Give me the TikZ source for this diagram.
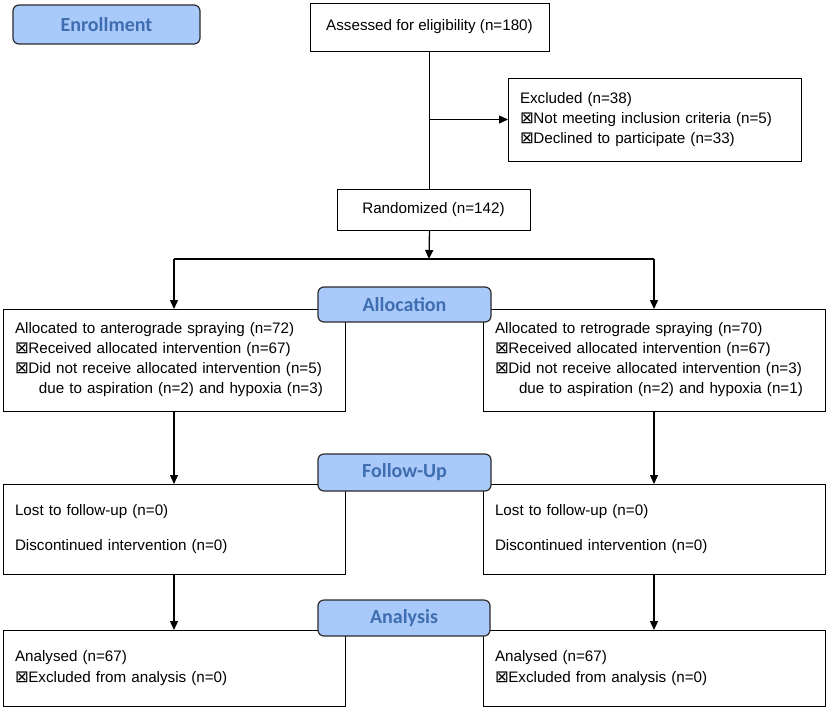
\documentclass[tikz,border=0pt]{standalone}
\usepackage{fontspec}
\setmainfont{Liberation Sans}
\newfontfamily\labfont{Carlito}
\newfontfamily\symfont{DejaVu Sans}
\usetikzlibrary{arrows.meta}
\definecolor{labfill}{HTML}{A9C9FA}
\definecolor{labtext}{HTML}{3E6EAF}
\definecolor{labedge}{HTML}{2B2B2B}
\newcommand{\cbx}{{\symfont\fontsize{16.5}{16}\selectfont ⊠}\hspace{-0.5pt}}
\begin{document}
\begin{tikzpicture}[x=1pt,y=-1pt,
  box/.style={draw=black, line width=1pt, anchor=north west, outer sep=0pt,
    inner xsep=12pt, inner ysep=0pt, align=left, fill=white,
    font=\fontsize{15.2}{20}\selectfont},
  lab/.style={draw=labedge, line width=1.2pt, rounded corners=6pt, fill=labfill,
    text=labtext, anchor=north west, outer sep=0pt, inner sep=0pt,
    font=\labfont\bfseries\fontsize{20}{24}\selectfont},
  conn/.style={line width=1.3pt, draw=black},
  arr/.style={conn, -{Triangle[length=9pt,width=8pt]}}
]
\useasboundingbox (0,0) rectangle (829,710);

% boxes
\node[box, align=center, minimum width=239pt, minimum height=48pt] (assess) at (310,3)
  {Assessed for eligibility (n=180)};
\node[box, text width=269pt, minimum width=293pt, minimum height=83pt] (excl) at (508,78)
  {Excluded (n=38)\\ \cbx Not meeting inclusion criteria (n=5)\\ \cbx Declined to participate (n=33)};
\node[box, align=center, minimum width=193pt, minimum height=41pt] (rand) at (337,189)
  {Randomized (n=142)};

\node[box, text width=318pt, minimum width=342pt, minimum height=102pt] (allocL) at (3,309)
  {Allocated to anterograde spraying (n=72)\\ \cbx Received allocated intervention (n=67)\\ \cbx Did not receive allocated intervention (n=5)\\ \hspace*{24pt}due to aspiration (n=2) and hypoxia (n=3)};
\node[box, text width=318pt, minimum width=342pt, minimum height=102pt] (allocR) at (483,309)
  {Allocated to retrograde spraying (n=70)\\ \cbx Received allocated intervention (n=67)\\ \cbx Did not receive allocated intervention (n=3)\\ \hspace*{24pt}due to aspiration (n=2) and hypoxia (n=1)};

\node[box, text width=318pt, minimum width=342pt, minimum height=90pt] (fuL) at (3,484)
  {Lost to follow-up (n=0)\\[15pt] Discontinued intervention (n=0)};
\node[box, text width=318pt, minimum width=342pt, minimum height=90pt] (fuR) at (483,484)
  {Lost to follow-up (n=0)\\[15pt] Discontinued intervention (n=0)};

\node[box, text width=318pt, minimum width=342pt, minimum height=76pt] (anL) at (3,630)
  {Analysed (n=67)\\[1pt] \cbx Excluded from analysis (n=0)};
\node[box, text width=318pt, minimum width=342pt, minimum height=76pt] (anR) at (483,630)
  {Analysed (n=67)\\[1pt] \cbx Excluded from analysis (n=0)};

% connectors
\coordinate (split) at (429,259);
\draw[conn] (assess.south) -- (assess.south |- rand.north);
\draw[arr] (assess.south |- excl.west) -- (excl.west);
\draw[arr] (assess.south |- rand.south) -- (split);
\draw[conn] (allocL.north |- split) -- (allocR.north |- split);
\draw[arr] (allocL.north |- split) -- (allocL.north);
\draw[arr] (allocR.north |- split) -- (allocR.north);
\draw[arr] (allocL.south) -- (fuL.north);
\draw[arr] (allocR.south) -- (fuR.north);
\draw[arr] (fuL.south) -- (anL.north);
\draw[arr] (fuR.south) -- (anR.north);

% phase labels
\node[lab, minimum width=187pt, minimum height=39pt] (enroll) at (13,5) {Enrollment};
\node[lab, minimum width=173pt, minimum height=35pt] (allocLab) at (318,287) {Allocation};
\node[lab, minimum width=173pt, minimum height=37pt] (fuLab) at (318,454) {Follow-Up};
\node[lab, minimum width=172pt, minimum height=36pt] (anLab) at (318,600) {Analysis};
\end{tikzpicture}
\end{document}
